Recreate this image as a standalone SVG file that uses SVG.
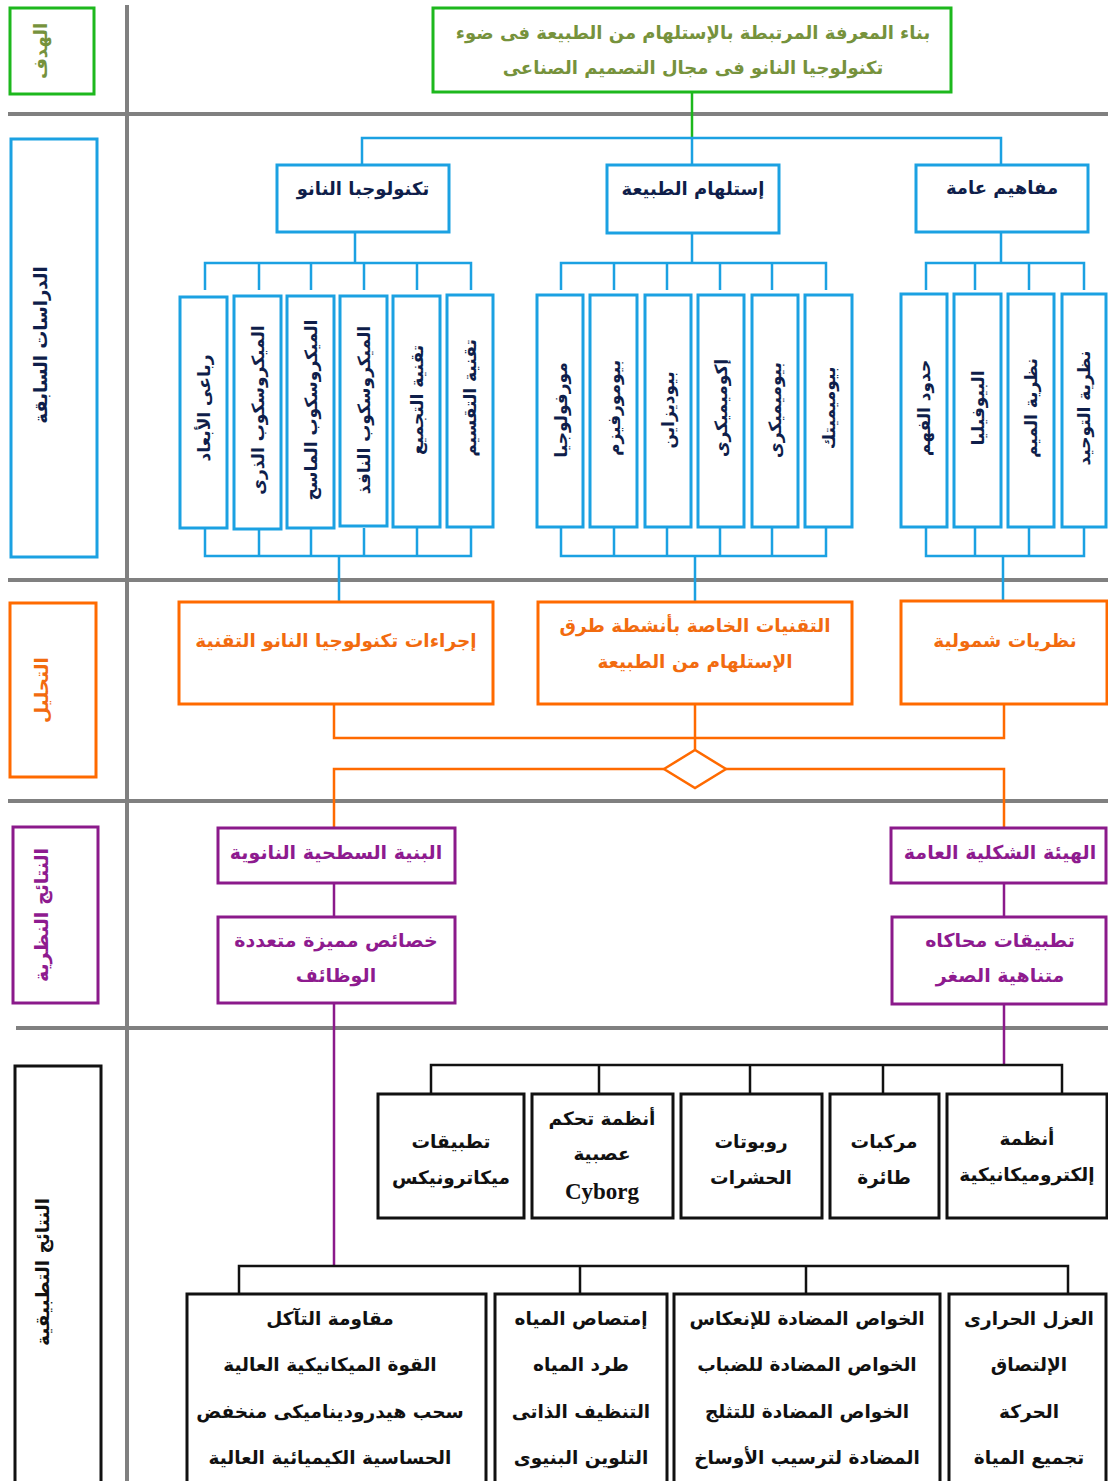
<svg xmlns="http://www.w3.org/2000/svg" width="1108" height="1481" viewBox="0 0 1108 1481">
<style>
text{font-family:"DejaVu Sans",sans-serif;font-weight:bold;text-anchor:middle;dominant-baseline:central}
.grid{stroke:#808080;stroke-width:4;fill:none}
.gbox{fill:#fff;stroke:#1DB81D;stroke-width:3}
.bbox{fill:#fff;stroke:#1BA1E2;stroke-width:3}
.obox{fill:#fff;stroke:#FF6A00;stroke-width:3}
.pbox{fill:#fff;stroke:#8B1A8B;stroke-width:3}
.kbox{fill:#fff;stroke:#111;stroke-width:3}
.gt{fill:#76923C;font-size:18px}
.bt{fill:#0F1E4A;font-size:18px}
.vt{fill:#0F1E4A;font-size:17px}
.ot{fill:#F26B0F;font-size:18.5px}
.pt{fill:#8E1B8F;font-size:19px}
.kt{fill:#111;font-size:18.5px}
.cb{stroke:#1BA1E2;stroke-width:2.5;fill:none}
.cg{stroke:#1DB81D;stroke-width:2.5;fill:none}
.co{stroke:#FF6A00;stroke-width:2.5;fill:none}
.cp{stroke:#8B1A8B;stroke-width:2.5;fill:none}
.ck{stroke:#111;stroke-width:2.5;fill:none}
</style>
<g id="grid">
<line class="grid" x1="127" y1="5" x2="127" y2="1481"/>
<line class="grid" x1="8" y1="114" x2="1108" y2="114"/>
<line class="grid" x1="8" y1="580" x2="1108" y2="580"/>
<line class="grid" x1="8" y1="801" x2="1108" y2="801"/>
<line class="grid" x1="16" y1="1028" x2="1108" y2="1028"/>
</g>
<g id="connectors">
<path class="cg" d="M692 92V138"/>
<path class="cb" d="M362 164V138H1001V164M692 138V164"/>
<path class="cb" d="M355 232V263M205 290V263H471V290M259 263V290M311 263V290M364 263V290M417 263V290"/>
<path class="cb" d="M692 233V263M561 290V263H826V290M614 263V290M667 263V290M720 263V290M772 263V290"/>
<path class="cb" d="M1001 232V263M926 290V263H1084V290M975 263V290M1029 263V290"/>
<path class="cb" d="M205 528V556H471V528M259 528V556M311 528V556M364 528V556M417 528V556M339 556V601"/>
<path class="cb" d="M561 527V556H826V527M614 527V556M667 527V556M720 527V556M772 527V556M695 556V601"/>
<path class="cb" d="M926 527V556H1084V527M975 527V556M1029 527V556M1003 556V600"/>
<path class="co" d="M334 704V738H1004V704M695 704V750"/>
<path class="co" d="M664 769L695 750L726 769L695 788Z"/>
<path class="co" d="M664 769H334V828M726 769H1004V828"/>
<path class="cp" d="M334 883V917M334 1003V1266M1004 883V917M1004 1004V1065"/>
<path class="ck" d="M431 1093V1065H1062V1093M599 1065V1093M750 1065V1093M883 1065V1093"/>
<path class="ck" d="M239 1293V1266H1068V1293M580 1266V1293M806 1266V1293"/>
</g>
<g id="label-goal"><rect class="gbox" x="10" y="8" width="84" height="86"/><text class="gt" transform="translate(40,51) rotate(-90)">الهدف</text></g>
<g id="label-previous"><rect class="bbox" x="11" y="139" width="86" height="418"/><text class="bt" transform="translate(40,345) rotate(-90)">الدراسات السابقة</text></g>
<g id="label-analysis"><rect class="obox" x="10" y="603" width="86" height="174"/><text class="ot" transform="translate(41,690) rotate(-90)">التحليل</text></g>
<g id="label-theory"><rect class="pbox" x="13" y="827" width="85" height="176"/><text class="pt" transform="translate(41,915) rotate(-90)">النتائج النظرية</text></g>
<g id="label-applied"><rect class="kbox" x="15" y="1066" width="86" height="420"/><text class="kt" transform="translate(42,1272) rotate(-90)">النتائج التطبيقية</text></g>
<g id="goal"><rect class="gbox" x="433" y="8" width="518" height="84"/><text class="gt" x="693" y="32">بناء المعرفة المرتبطة بالإستلهام من الطبيعة فى ضوء</text><text class="gt" x="693" y="67">تكنولوجيا النانو فى مجال التصميم الصناعى</text></g>
<g id="nano"><rect class="bbox" x="277" y="165" width="172" height="67"/><text class="bt" x="363" y="188">تكنولوجبا النانو</text></g>
<g id="nature"><rect class="bbox" x="607" y="165" width="172" height="68"/><text class="bt" x="693" y="188">إستلهام الطبيعة</text></g>
<g id="concepts"><rect class="bbox" x="916" y="165" width="172" height="67"/><text class="bt" x="1002" y="187">مفاهيم عامة</text></g>
<g id="n1"><rect class="bbox" x="180" y="297" width="47" height="231"/><text class="vt" transform="translate(204,408) rotate(-90)">رباعى الأبعاد</text></g>
<g id="n2"><rect class="bbox" x="234" y="296" width="47" height="233"/><text class="vt" transform="translate(258,410) rotate(-90)">الميكروسكوب الذرى</text></g>
<g id="n3"><rect class="bbox" x="287" y="296" width="47" height="232"/><text class="vt" transform="translate(311,410) rotate(-90)">الميكروسكوب الماسح</text></g>
<g id="n4"><rect class="bbox" x="340" y="296" width="47" height="230"/><text class="vt" transform="translate(364,410) rotate(-90)">الميكروسكوب النافذ</text></g>
<g id="n5"><rect class="bbox" x="393" y="296" width="47" height="231"/><text class="vt" transform="translate(417,400) rotate(-90)">تقنية التجميع</text></g>
<g id="n6"><rect class="bbox" x="447" y="295" width="46" height="232"/><text class="vt" transform="translate(470,398) rotate(-90)">تقنية التقسيم</text></g>
<g id="b1"><rect class="bbox" x="537" y="295" width="46" height="232"/><text class="vt" transform="translate(561,410) rotate(-90)">مورفولوجيا</text></g>
<g id="b2"><rect class="bbox" x="590" y="295" width="47" height="232"/><text class="vt" transform="translate(614,408) rotate(-90)">بيومورفيزم</text></g>
<g id="b3"><rect class="bbox" x="645" y="295" width="46" height="232"/><text class="vt" transform="translate(668,410) rotate(-90)">بيوديزاين</text></g>
<g id="b4"><rect class="bbox" x="698" y="295" width="46" height="232"/><text class="vt" transform="translate(721,408) rotate(-90)">إكوميميكرى</text></g>
<g id="b5"><rect class="bbox" x="752" y="295" width="46" height="232"/><text class="vt" transform="translate(775,410) rotate(-90)">بيوميميكرى</text></g>
<g id="b6"><rect class="bbox" x="805" y="295" width="47" height="232"/><text class="vt" transform="translate(829,408) rotate(-90)">بيوميميتك</text></g>
<g id="c1"><rect class="bbox" x="901" y="294" width="46" height="233"/><text class="vt" transform="translate(924,408) rotate(-90)">حدود الفهم</text></g>
<g id="c2"><rect class="bbox" x="954" y="294" width="47" height="233"/><text class="vt" transform="translate(978,408) rotate(-90)">البيوفيليا</text></g>
<g id="c3"><rect class="bbox" x="1008" y="294" width="46" height="233"/><text class="vt" transform="translate(1031,408) rotate(-90)">نظرية الميم</text></g>
<g id="c4"><rect class="bbox" x="1062" y="294" width="44" height="233"/><text class="vt" transform="translate(1084,408) rotate(-90)">نظرية التوحيد</text></g>
<g id="a1"><rect class="obox" x="179" y="602" width="314" height="102"/><text class="ot" x="336" y="640">إجراءات تكنولوجيا النانو التقنية</text></g>
<g id="a2"><rect class="obox" x="538" y="602" width="314" height="102"/><text class="ot" x="695" y="625">التقنيات الخاصة بأنشطة طرق</text><text class="ot" x="695" y="661">الإستلهام من الطبيعة</text></g>
<g id="a3"><rect class="obox" x="901" y="601" width="206" height="103"/><text class="ot" x="1005" y="640">نظريات شمولية</text></g>
<g id="t1"><rect class="pbox" x="218" y="828" width="237" height="55"/><text class="pt" x="336" y="852">البنية السطحية النانوية</text></g>
<g id="t2"><rect class="pbox" x="218" y="917" width="237" height="86"/><text class="pt" x="336" y="940">خصائص مميزة متعددة</text><text class="pt" x="336" y="975">الوظائف</text></g>
<g id="t3"><rect class="pbox" x="891" y="828" width="215" height="55"/><text class="pt" x="1000" y="852">الهيئة الشكلية العامة</text></g>
<g id="t4"><rect class="pbox" x="892" y="917" width="214" height="87"/><text class="pt" x="1000" y="940">تطبيقات محاكاه</text><text class="pt" x="1000" y="975">متناهية الصغر</text></g>
<g id="u1"><rect class="kbox" x="378" y="1094" width="146" height="124"/><text class="kt" x="451" y="1141">تطبيقات</text><text class="kt" x="451" y="1177">ميكاترونيكس</text></g>
<g id="u2"><rect class="kbox" x="532" y="1094" width="141" height="124"/><text class="kt" x="602" y="1118">أنظمة تحكم</text><text class="kt" x="602" y="1153">عصبية</text><text class="kt" x="602" y="1191" style="font-family:'Liberation Serif',serif;font-size:23px">Cyborg</text></g>
<g id="u3"><rect class="kbox" x="681" y="1094" width="141" height="124"/><text class="kt" x="751" y="1141">روبوتات</text><text class="kt" x="751" y="1177">الحشرات</text></g>
<g id="u4"><rect class="kbox" x="830" y="1094" width="109" height="124"/><text class="kt" x="884" y="1141">مركبات</text><text class="kt" x="884" y="1177">طائرة</text></g>
<g id="u5"><rect class="kbox" x="947" y="1094" width="160" height="124"/><text class="kt" x="1027" y="1138">أنظمة</text><text class="kt" x="1027" y="1174">إلكتروميكانيكية</text></g>
<g id="l1"><rect class="kbox" x="187" y="1294" width="299" height="192"/><text class="kt" x="330" y="1318">مقاومة التآكل</text><text class="kt" x="330" y="1364">القوة الميكانيكية العالية</text><text class="kt" x="330" y="1411">سحب هيدروديناميكى منخفض</text><text class="kt" x="330" y="1457">الحساسية الكيميائية العالية</text></g>
<g id="l2"><rect class="kbox" x="495" y="1294" width="172" height="192"/><text class="kt" x="581" y="1318">إمتصاص المياه</text><text class="kt" x="581" y="1364">طرد المياه</text><text class="kt" x="581" y="1411">التنظيف الذاتى</text><text class="kt" x="581" y="1457">التلوين البنيوى</text></g>
<g id="l3"><rect class="kbox" x="674" y="1294" width="266" height="192"/><text class="kt" x="807" y="1318">الخواص المضادة للإنعكاس</text><text class="kt" x="807" y="1364">الخواص المضادة للضباب</text><text class="kt" x="807" y="1411">الخواص المضادة للتثلج</text><text class="kt" x="807" y="1457">المضادة لترسيب الأوساخ</text></g>
<g id="l4"><rect class="kbox" x="949" y="1294" width="157" height="192"/><text class="kt" x="1029" y="1318">العزل الحرارى</text><text class="kt" x="1029" y="1364">الإلتصاق</text><text class="kt" x="1029" y="1411">الحركة</text><text class="kt" x="1029" y="1457">تجميع المياة</text></g>
</svg>
